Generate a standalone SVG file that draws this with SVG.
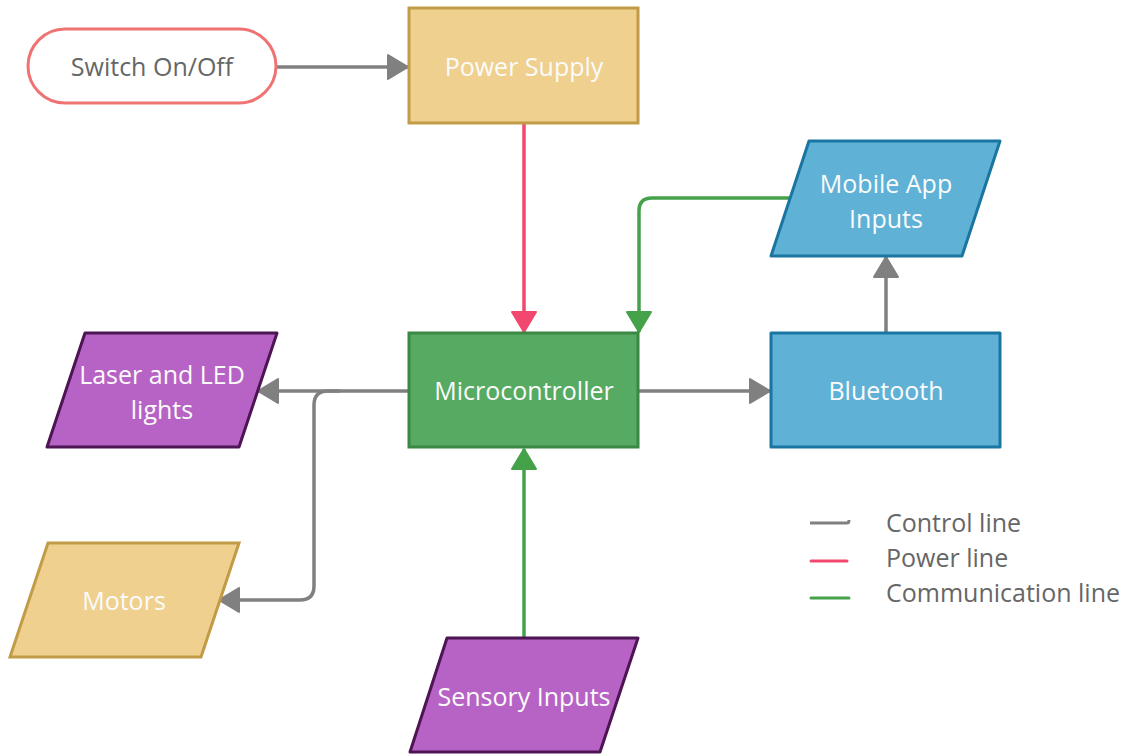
<svg xmlns="http://www.w3.org/2000/svg" width="1140" height="755" viewBox="0 0 1140 755">
  <defs>
    <style>
      .t { font-family: "Open Sans", "Noto Sans", "Liberation Sans", sans-serif; font-size: 25px; text-anchor: middle; dominant-baseline: central; fill: #fbfbfb; }
      .dark { fill: #666666; }
      .leg { font-family: "Open Sans", "Noto Sans", "Liberation Sans", sans-serif; font-size: 25px; fill: #666666; dominant-baseline: central; }
      .yellow { fill: #efd08f; stroke: #c29b47; stroke-width: 3; }
      .purple { fill: #b763c5; stroke: #4d1553; stroke-width: 3; stroke-linejoin: round; }
      .green { fill: #57aa62; stroke: #3a8844; stroke-width: 3; }
      .blue { fill: #5fb2d6; stroke: #1a76a1; stroke-width: 3; stroke-linejoin: round; }
      .ctl { fill: none; stroke: #808080; stroke-width: 3.5; }
      .pwr { fill: none; stroke: #f2476f; stroke-width: 3.5; }
      .com { fill: none; stroke: #45a24a; stroke-width: 3.5; }
    </style>
    <marker id="aG" markerUnits="userSpaceOnUse" markerWidth="24" markerHeight="26" refX="20" refY="12" orient="auto" viewBox="-2 -1 24 26">
      <path d="M0,0 L20,12 L0,24 z" fill="#808080" stroke="#808080" stroke-width="2" stroke-linejoin="round"/>
    </marker>
    <marker id="aP" markerUnits="userSpaceOnUse" markerWidth="24" markerHeight="26" refX="20" refY="12" orient="auto" viewBox="-2 -1 24 26">
      <path d="M0,0 L20,12 L0,24 z" fill="#f2476f" stroke="#f2476f" stroke-width="2" stroke-linejoin="round"/>
    </marker>
    <marker id="aC" markerUnits="userSpaceOnUse" markerWidth="24" markerHeight="26" refX="20" refY="12" orient="auto" viewBox="-2 -1 24 26">
      <path d="M0,0 L20,12 L0,24 z" fill="#45a24a" stroke="#45a24a" stroke-width="2" stroke-linejoin="round"/>
    </marker>
  </defs>
  <rect width="1140" height="755" fill="#ffffff"/>

  <g id="connectors">
    <path class="ctl" d="M277,67 H408" marker-end="url(#aG)"/>
    <path class="pwr" d="M524,124 V332" marker-end="url(#aP)"/>
    <path class="com" d="M791,198 H652 Q639,198 639,211 V332" marker-end="url(#aC)"/>
    <path class="ctl" d="M639,391 H770" marker-end="url(#aG)"/>
    <path class="ctl" d="M886,332 V257" marker-end="url(#aG)"/>
    <path class="ctl" d="M408,391 H258" marker-end="url(#aG)"/>
    <path class="ctl" d="M340,391 H328 Q314,391 314,405 V586 Q314,600 300,600 H219" marker-end="url(#aG)"/>
    <path class="com" d="M524,637 V449" marker-end="url(#aC)"/>
  </g>

  <g id="switch">
    <rect x="28" y="29" width="248" height="74" rx="37" ry="37" fill="#ffffff" stroke="#f07373" stroke-width="3"/>
    <text class="t dark" x="152" y="66">Switch On/Off</text>
  </g>

  <g id="power-supply">
    <rect class="yellow" x="409" y="8" width="229" height="115"/>
    <text class="t" x="524" y="66">Power Supply</text>
  </g>

  <g id="microcontroller">
    <rect class="green" x="409" y="333" width="229" height="114"/>
    <text class="t" x="524" y="390">Microcontroller</text>
  </g>

  <g id="bluetooth">
    <rect class="blue" x="771" y="333" width="229" height="114"/>
    <text class="t" x="886" y="390">Bluetooth</text>
  </g>

  <g id="mobile-app">
    <polygon class="blue" points="809,141 1000,141 962,256 771,256"/>
    <text class="t" x="886" y="183">Mobile App</text>
    <text class="t" x="886" y="218">Inputs</text>
  </g>

  <g id="laser-led">
    <polygon class="purple" points="85,333 277,333 239,447 47,447"/>
    <text class="t" x="162" y="374">Laser and LED</text>
    <text class="t" x="162" y="409">lights</text>
  </g>

  <g id="motors">
    <polygon class="yellow" points="48,543 239,543 201,657 10,657"/>
    <text class="t" x="124" y="600">Motors</text>
  </g>

  <g id="sensory-inputs">
    <polygon class="purple" points="447,638 638,638 600,752 410,752"/>
    <text class="t" x="524" y="696">Sensory Inputs</text>
  </g>

  <g id="legend">
    <path d="M810,523 H847 Q849,523 849,520" fill="none" stroke="#808080" stroke-width="3"/>
    <line x1="811" y1="561" x2="847" y2="561" stroke="#f2476f" stroke-width="3" stroke-linecap="round"/>
    <line x1="811" y1="598" x2="849" y2="598" stroke="#45a24a" stroke-width="3" stroke-linecap="round"/>
    <text class="leg" x="886" y="522">Control line</text>
    <text class="leg" x="886" y="557">Power line</text>
    <text class="leg" x="886" y="592">Communication line</text>
  </g>
</svg>
